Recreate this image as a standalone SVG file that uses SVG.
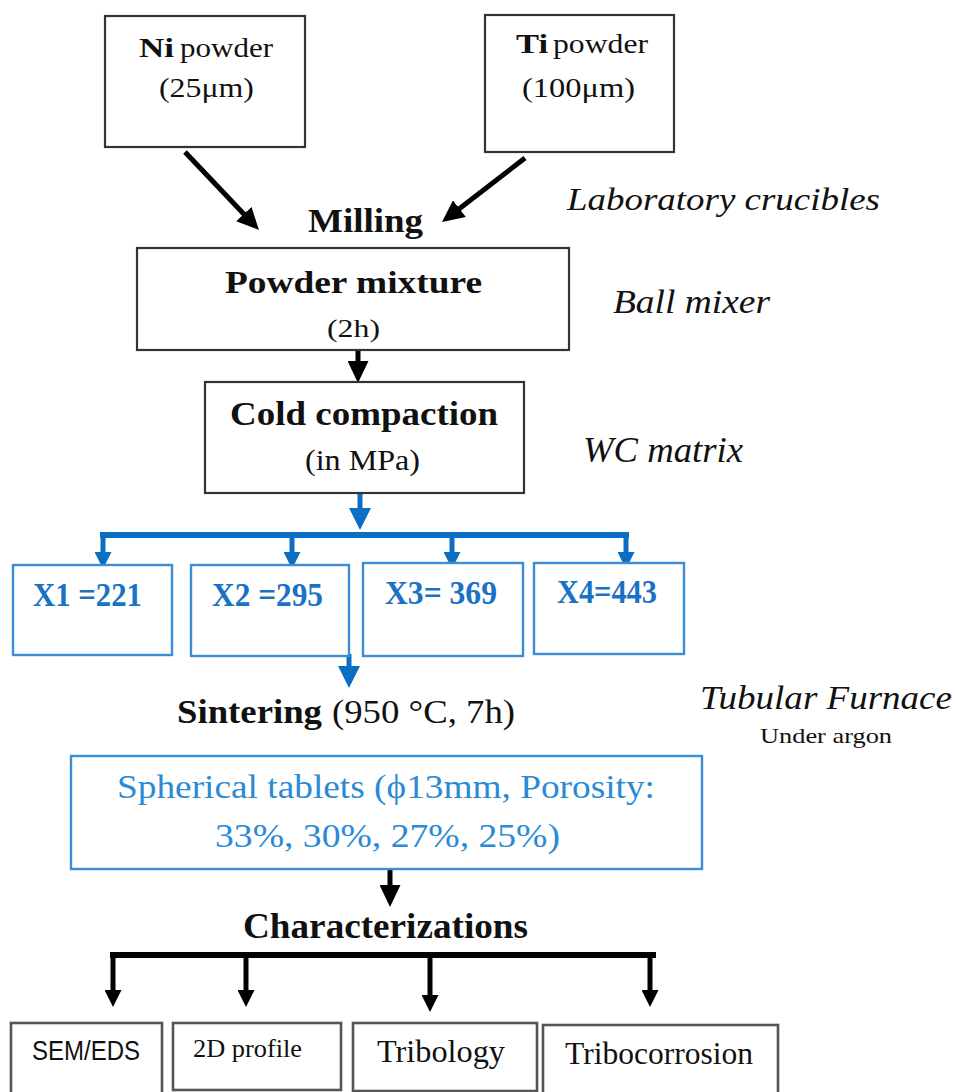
<svg xmlns="http://www.w3.org/2000/svg" width="955" height="1092" viewBox="0 0 955 1092">
<style>
  text { font-family: "Liberation Serif", "Times New Roman", serif; fill: #111; }
  .b { font-weight: bold; }
  .i { font-style: italic; }
  .blue { fill: #1a72c6; }
  .lblue { fill: #2a8ad6; }
  .sans { font-family: "Liberation Sans", Arial, sans-serif; }
  .box { fill: #fff; stroke: #333; stroke-width: 2.2; }
  .gbox { fill: #fff; stroke: #555; stroke-width: 2.6; }
  .bbox { fill: #fff; stroke: #3a8dd6; stroke-width: 2.4; }
  .ln { fill: none; stroke: #000; stroke-width: 5; }
  .lnb { fill: none; stroke: #0a6fc2; stroke-width: 5; }
  .bus { fill: none; stroke: #000; stroke-width: 6; }
  .busb { fill: none; stroke: #0a6fc2; stroke-width: 6; }
</style>
<defs>
  <marker id="hk" markerUnits="userSpaceOnUse" markerWidth="22" markerHeight="21" refX="10" refY="10.5" orient="auto">
    <path d="M0,0 L22,10.5 L0,21 z" fill="#000"/>
  </marker>
  <marker id="hks" markerUnits="userSpaceOnUse" markerWidth="17" markerHeight="17" refX="8" refY="8.5" orient="auto">
    <path d="M0,0 L17,8.5 L0,17 z" fill="#000"/>
  </marker>
  <marker id="hb" markerUnits="userSpaceOnUse" markerWidth="22" markerHeight="22" refX="10" refY="11" orient="auto">
    <path d="M0,0 L22,11 L0,22 z" fill="#0a6fc2"/>
  </marker>
  <marker id="hbs" markerUnits="userSpaceOnUse" markerWidth="17" markerHeight="17" refX="8" refY="8.5" orient="auto">
    <path d="M0,0 L17,8.5 L0,17 z" fill="#0a6fc2"/>
  </marker>
</defs>
<rect width="955" height="1092" fill="#fff"/>

<g id="connectors">
  <line class="ln" x1="185" y1="152" x2="250.7" y2="221.3" marker-end="url(#hk)"/>
  <line class="ln" x1="525" y1="158" x2="451.5" y2="214.7" marker-end="url(#hk)"/>
  <line class="ln" x1="358" y1="350" x2="358" y2="371" marker-end="url(#hk)"/>
  <line class="lnb" x1="360" y1="493" x2="360" y2="518" marker-end="url(#hb)"/>
  <line class="busb" x1="100" y1="535" x2="629" y2="535"/>
  <line class="lnb" x1="103" y1="535" x2="103" y2="560" marker-end="url(#hbs)"/>
  <line class="lnb" x1="292" y1="535" x2="292" y2="560" marker-end="url(#hbs)"/>
  <line class="lnb" x1="452" y1="535" x2="452" y2="560" marker-end="url(#hbs)"/>
  <line class="lnb" x1="626" y1="535" x2="626" y2="560" marker-end="url(#hbs)"/>
  <line class="lnb" x1="349" y1="654" x2="349" y2="676" marker-end="url(#hb)"/>
  <line class="ln" x1="390" y1="869" x2="390" y2="895" marker-end="url(#hk)"/>
  <line class="bus" x1="110" y1="955" x2="656" y2="955"/>
  <line class="ln" x1="113" y1="955" x2="113" y2="998" marker-end="url(#hks)"/>
  <line class="ln" x1="246" y1="955" x2="246" y2="998" marker-end="url(#hks)"/>
  <line class="ln" x1="430" y1="955" x2="430" y2="1003" marker-end="url(#hks)"/>
  <line class="ln" x1="650" y1="955" x2="650" y2="998" marker-end="url(#hks)"/>
</g>

<g id="ni-powder">
  <rect class="box" x="105" y="16" width="200" height="131"/>
  <text class="b" x="139" y="57" font-size="28" textLength="35" lengthAdjust="spacingAndGlyphs">Ni</text>
  <text x="180" y="57" font-size="28" textLength="93" lengthAdjust="spacingAndGlyphs">powder</text>
  <text x="159" y="97" font-size="28" textLength="95" lengthAdjust="spacingAndGlyphs">(25μm)</text>
</g>

<g id="ti-powder">
  <rect class="box" x="485" y="15" width="189" height="137"/>
  <text class="b" x="516" y="53" font-size="28" textLength="32" lengthAdjust="spacingAndGlyphs">Ti</text>
  <text x="553" y="53" font-size="28" textLength="95" lengthAdjust="spacingAndGlyphs">powder</text>
  <text x="522" y="97" font-size="28" textLength="113" lengthAdjust="spacingAndGlyphs">(100μm)</text>
</g>

<g id="milling">
  <text class="b" x="308" y="232" font-size="34" textLength="115" lengthAdjust="spacingAndGlyphs">Milling</text>
</g>

<g id="lab-crucibles">
  <text class="i" x="567" y="210" font-size="31" textLength="313" lengthAdjust="spacingAndGlyphs">Laboratory crucibles</text>
</g>

<g id="powder-mixture">
  <rect class="box" x="137" y="248" width="432" height="102"/>
  <text class="b" x="225" y="293" font-size="32" textLength="257" lengthAdjust="spacingAndGlyphs">Powder mixture</text>
  <text x="327" y="337" font-size="26" textLength="53" lengthAdjust="spacingAndGlyphs">(2h)</text>
</g>

<g id="ball-mixer">
  <text class="i" x="613" y="313" font-size="34" textLength="157" lengthAdjust="spacingAndGlyphs">Ball mixer</text>
</g>

<g id="cold-compaction">
  <rect class="box" x="205" y="382" width="319" height="111"/>
  <text class="b" x="230" y="425" font-size="34" textLength="268" lengthAdjust="spacingAndGlyphs">Cold compaction</text>
  <text x="305" y="470" font-size="29" textLength="115" lengthAdjust="spacingAndGlyphs">(in MPa)</text>
</g>

<g id="wc-matrix">
  <text class="i" x="583" y="462" font-size="35" textLength="160" lengthAdjust="spacingAndGlyphs">WC matrix</text>
</g>

<g id="x1">
  <rect class="bbox" x="13" y="565" width="159" height="90"/>
  <text class="b blue" x="33" y="606" font-size="34" textLength="109" lengthAdjust="spacingAndGlyphs">X1 =221</text>
</g>
<g id="x2">
  <rect class="bbox" x="191" y="565" width="158" height="91"/>
  <text class="b blue" x="212" y="606" font-size="34" textLength="111" lengthAdjust="spacingAndGlyphs">X2 =295</text>
</g>
<g id="x3">
  <rect class="bbox" x="363" y="563" width="160" height="93"/>
  <text class="b blue" x="385" y="604" font-size="34" textLength="112" lengthAdjust="spacingAndGlyphs">X3= 369</text>
</g>
<g id="x4">
  <rect class="bbox" x="534" y="563" width="150" height="91"/>
  <text class="b blue" x="557" y="603" font-size="34" textLength="100" lengthAdjust="spacingAndGlyphs">X4=443</text>
</g>

<g id="sintering">
  <text class="b" x="177" y="723" font-size="33" textLength="145" lengthAdjust="spacingAndGlyphs">Sintering</text>
  <text x="332" y="723" font-size="33" textLength="183" lengthAdjust="spacingAndGlyphs">(950 °C, 7h)</text>
</g>

<g id="tubular-furnace">
  <text class="i" x="700" y="709" font-size="34" textLength="252" lengthAdjust="spacingAndGlyphs">Tubular Furnace</text>
  <text x="760" y="743" font-size="22" textLength="132" lengthAdjust="spacingAndGlyphs">Under argon</text>
</g>

<g id="spherical-tablets">
  <rect class="bbox" x="71" y="756" width="631" height="113" stroke-width="3"/>
  <text class="lblue" x="117" y="798" font-size="33" textLength="538" lengthAdjust="spacingAndGlyphs">Spherical tablets (ϕ13mm, Porosity:</text>
  <text class="lblue" x="215" y="847" font-size="33" textLength="345" lengthAdjust="spacingAndGlyphs">33%, 30%, 27%, 25%)</text>
</g>

<g id="characterizations">
  <text class="b" x="243" y="938" font-size="35" textLength="285" lengthAdjust="spacingAndGlyphs">Characterizations</text>
</g>

<g id="sem-eds">
  <rect class="gbox" x="11" y="1023" width="151" height="80"/>
  <text class="sans" x="32" y="1060" font-size="27" textLength="108" lengthAdjust="spacingAndGlyphs">SEM/EDS</text>
</g>
<g id="profile-2d">
  <rect class="gbox" x="173" y="1023" width="168" height="67"/>
  <text x="193" y="1057" font-size="26" textLength="109" lengthAdjust="spacingAndGlyphs">2D profile</text>
</g>
<g id="tribology">
  <rect class="gbox" x="353" y="1023" width="184" height="68"/>
  <text x="377" y="1062" font-size="32" textLength="128" lengthAdjust="spacingAndGlyphs">Tribology</text>
</g>
<g id="tribocorrosion">
  <rect class="gbox" x="543" y="1025" width="235" height="80"/>
  <text x="565" y="1064" font-size="32" textLength="188" lengthAdjust="spacingAndGlyphs">Tribocorrosion</text>
</g>
</svg>
